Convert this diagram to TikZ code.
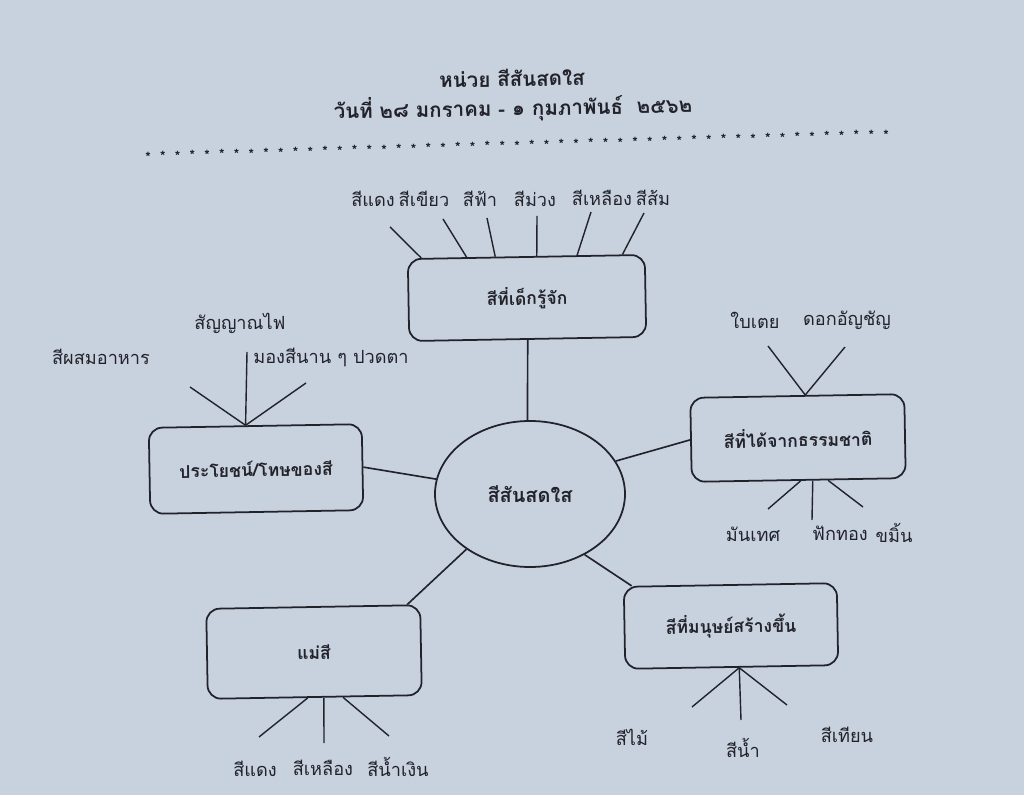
\documentclass[tikz,border=0pt]{standalone}
\usepackage{fontspec}
\usetikzlibrary{shapes.geometric,calc}
\newfontfamily\thai[Script=Thai]{Loma}
\definecolor{paper}{RGB}{200,210,223}
\definecolor{ink}{RGB}{34,34,42}
\begin{document}
\begin{tikzpicture}[x=0.03cm,y=-0.03cm,
  box/.style={draw=ink, line width=1.5pt, rounded corners=0.4cm, inner sep=0pt, rotate=1,
    text=ink, font=\thai\bfseries\fontsize{15}{17}\selectfont},
  oval/.style={ellipse, draw=ink, line width=1.5pt, inner sep=0pt,
    text=ink, font=\thai\bfseries\fontsize{17}{19}\selectfont},
  lbl/.style={inner sep=0pt, text=ink, font=\thai\fontsize{15.5}{18}\selectfont},
  head/.style={inner sep=0pt, text=ink, rotate=1, font=\thai\bfseries\fontsize{17.5}{20}\selectfont},
  starmark/.style={inner sep=0pt, text=ink, font=\thai\bfseries\fontsize{12}{12}\selectfont},
  spoke/.style={draw=ink, line width=1.2pt},
  link/.style={draw=ink, line width=1.4pt}]
\path[fill=paper, use as bounding box] (0,0) rectangle (1024,795);

% heading
\node[head] (title) at (512,78) {หน่วย สีสันสดใส};
\node[head] (date) at (513,108) {วันที่ ๒๘ มกราคม - ๑ กุมภาพันธ์~~๒๕๖๒};
\foreach \i in {0,...,50}
  \node[starmark] (star\i) at ($(148,157)!\i/50!(886,135)$) {*};

% centre
\node[oval, minimum width=5.7cm, minimum height=4.38cm] (c) at (530,494) {สีสันสดใส};

% boxes
\node[box, minimum width=7.11cm, minimum height=2.46cm] (t) at (527,298) {สีที่เด็กรู้จัก};
\node[box, minimum width=6.39cm, minimum height=2.58cm] (l) at (256,469) {ประโยชน์/โทษของสี};
\node[box, minimum width=6.42cm, minimum height=2.52cm] (r) at (798,438) {สีที่ได้จากธรรมชาติ};
\node[box, minimum width=6.42cm, minimum height=2.7cm] (bl) at (314,652) {แม่สี};
\node[box, minimum width=6.39cm, minimum height=2.46cm] (br) at (731,626) {สีที่มนุษย์สร้างขึ้น};

% links
\draw[link] (t.south) -- (c.92);
\draw[link] (l.east) -- (c.171);
\draw[link] (r.west) -- (c.21);
\draw[link] (bl.26) -- (c.221);
\draw[link] (br.157) -- (c.312);

% top spokes
\coordinate (t1) at (390,227);
\coordinate (t2) at (443,219);
\coordinate (t3) at (487,218);
\coordinate (t4) at (537,216);
\coordinate (t5) at (591,212);
\coordinate (t6) at (644,213);
\foreach \k/\f in {1/0.06,2/0.25,3/0.37,4/0.544,5/0.713,6/0.903}
  \draw[spoke] ($(t.north west)!\f!(t.north east)$) -- (t\k);
\node[lbl] (lt1) at (373,199) {สีแดง};
\node[lbl] (lt2) at (424,199) {สีเขียว};
\node[lbl] (lt3) at (480,199) {สีฟ้า};
\node[lbl] (lt4) at (535,199) {สีม่วง};
\node[lbl] (lt5) at (602,198) {สีเหลือง};
\node[lbl] (lt6) at (653,198) {สีส้ม};

% left spokes
\coordinate (l1) at (190,387);
\coordinate (l2) at (247,352);
\coordinate (l3) at (306,383);
\foreach \k in {1,2,3}
  \draw[spoke] ($(l.north west)!0.455!(l.north east)$) -- (l\k);
\node[lbl] (ll1) at (101,357) {สีผสมอาหาร};
\node[lbl] (ll2) at (240,323) {สัญญาณไฟ};
\node[lbl] (ll3) at (331,357) {มองสีนาน ๆ ปวดตา};

% right spokes
\coordinate (r1) at (768,346);
\coordinate (r2) at (845,347);
\foreach \k in {1,2}
  \draw[spoke] ($(r.north west)!0.537!(r.north east)$) -- (r\k);
\coordinate (r3) at (768,509);
\coordinate (r4) at (812,520);
\coordinate (r5) at (863,507);
\foreach \k/\f in {3/0.509,4/0.565,5/0.636}
  \draw[spoke] ($(r.south west)!\f!(r.south east)$) -- (r\k);
\node[lbl] (lr1) at (755,320) {ใบเตย};
\node[lbl] (lr2) at (847,320) {ดอกอัญชัญ};
\node[lbl] (lr3) at (753,534) {มันเทศ};
\node[lbl] (lr4) at (840,533) {ฟักทอง};
\node[lbl] (lr5) at (894,533) {ขมิ้น};

% bottom-left spokes
\coordinate (b1) at (259,737);
\coordinate (b2) at (324,743);
\coordinate (b3) at (389,736);
\foreach \k/\f in {1/0.467,2/0.542,3/0.631}
  \draw[spoke] ($(bl.south west)!\f!(bl.south east)$) -- (b\k);
\node[lbl] (lb1) at (255,769) {สีแดง};
\node[lbl] (lb2) at (323,768) {สีเหลือง};
\node[lbl] (lb3) at (398,767) {สีน้ำเงิน};

% bottom-right spokes
\coordinate (m1) at (692,707);
\coordinate (m2) at (741,720);
\coordinate (m3) at (787,705);
\foreach \k in {1,2,3}
  \draw[spoke] ($(br.south west)!0.535!(br.south east)$) -- (m\k);
\node[lbl] (lm1) at (632,737) {สีไม้};
\node[lbl] (lm2) at (743,748) {สีน้ำ};
\node[lbl] (lm3) at (847,735) {สีเทียน};
\end{tikzpicture}
\end{document}
